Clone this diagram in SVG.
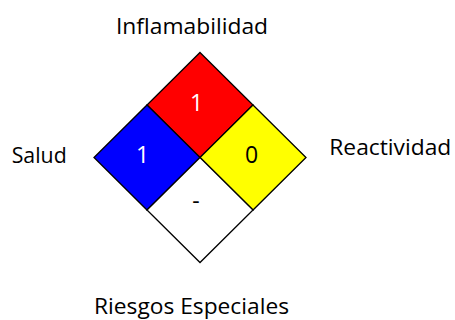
<svg xmlns="http://www.w3.org/2000/svg" width="455" height="320" viewBox="0 0 455 320">
<style>
.q{stroke:#000;stroke-width:1.3;stroke-linejoin:miter}
.lbl{font-family:"Open Sans","Noto Sans",sans-serif;font-size:22.5px;fill:#000}
.num{font-family:"Open Sans","Noto Sans",sans-serif;font-size:23px;text-anchor:middle}
</style>
<rect width="455" height="320" fill="#fff"/>
<g id="flammability">
<polygon class="q" fill="#ff0000" points="200,52.5 253,105 200,157.5 147,105"/>
<text class="num" x="196.5" y="111" fill="#fff">1</text>
</g>
<g id="health">
<polygon class="q" fill="#0000ff" points="147,105 200,157.5 147,210 94,157.5"/>
<text class="num" x="142.5" y="163" fill="#fff">1</text>
</g>
<g id="reactivity">
<polygon class="q" fill="#ffff00" points="253,105 306,157.5 253,210 200,157.5"/>
<text class="num" x="251.5" y="163" fill="#000">0</text>
</g>
<g id="special">
<polygon class="q" fill="#fff" points="200,157.5 253,210 200,262.5 147,210"/>
<text class="num" x="196" y="209" fill="#000">-</text>
</g>
<g id="labels">
<text class="lbl" x="116" y="34.3" textLength="152" lengthAdjust="spacingAndGlyphs">Inflamabilidad</text>
<text class="lbl" x="11.7" y="163.3" textLength="55" lengthAdjust="spacingAndGlyphs">Salud</text>
<text class="lbl" x="329.3" y="155" textLength="122" lengthAdjust="spacingAndGlyphs">Reactividad</text>
<text class="lbl" x="94" y="314" font-size="21.5" textLength="195" lengthAdjust="spacingAndGlyphs">Riesgos Especiales</text>
</g>
<g id="connectors"></g>
</svg>
